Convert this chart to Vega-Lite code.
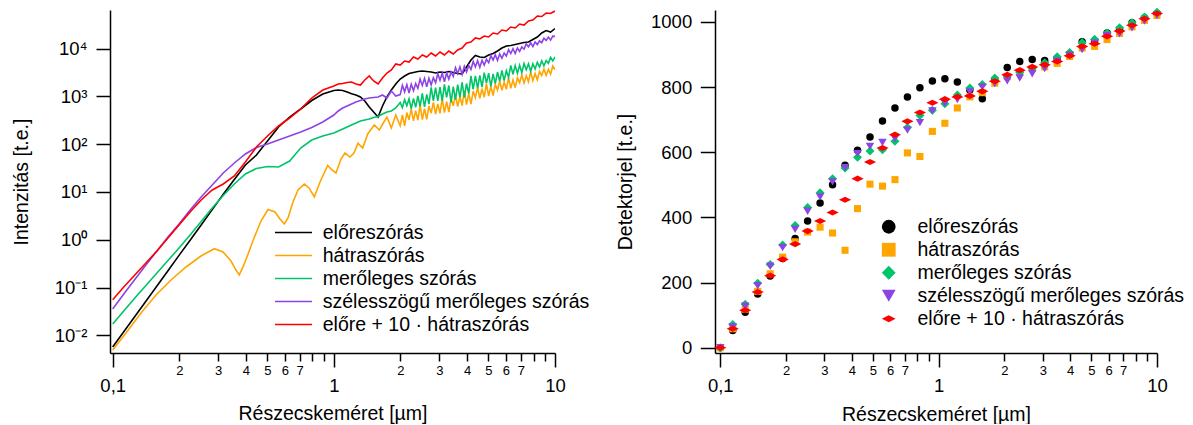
{
  "$schema": "https://vega.github.io/schema/vega-lite/v6.json",
  "autosize": {"type": "pad"},
  "padding": {"left": 11, "top": 7, "right": 0, "bottom": 0},
  "bounds": "flush",
  "spacing": 160,
  "config": {
    "view": {"stroke": null},
    "font": "Liberation Sans",
    "axis": {"domainColor": "#000", "domainWidth": 1.5, "tickColor": "#000", "tickWidth": 1.5, "labelColor": "#000", "titleColor": "#000", "titleFontWeight": "normal", "titleFontSize": 19.5, "labelFont": "Liberation Sans", "titleFont": "Liberation Sans", "grid": false, "labelOverlap": false, "labelFlush": false, "labelBound": false},
    "legend": {"labelFont": "Liberation Sans", "labelColor": "#000"}
  },
  "resolve": {"scale": {"color": "independent", "shape": "independent", "x": "independent", "y": "independent"}, "legend": {"color": "independent", "shape": "independent"}},
  "datasets": {
    "L": [
      {"s":"a","x":0.1,"y":0.00569},{"s":"a","x":0.1122,"y":0.0119},{"s":"a","x":0.1259,"y":0.0247},{"s":"a","x":0.1413,"y":0.0517},{"s":"a","x":0.1585,"y":0.1075},{"s":"a","x":0.1778,"y":0.2246},{"s":"a","x":0.1995,"y":0.4694},{"s":"a","x":0.2239,"y":0.976},{"s":"a","x":0.2512,"y":2.039},{"s":"a","x":0.2818,"y":4.262},{"s":"a","x":0.3162,"y":8.909},{"s":"a","x":0.3548,"y":18.17},{"s":"a","x":0.3981,"y":36.54},{"s":"a","x":0.4467,"y":59.16},{"s":"a","x":0.5012,"y":116.1},{"s":"a","x":0.5623,"y":227.9},{"s":"a","x":0.631,"y":368.9},{"s":"a","x":0.7079,"y":542.5},{"s":"a","x":0.7943,"y":816.9},{"s":"a","x":0.8913,"y":1117},{"s":"a","x":1,"y":1322},
      {"s":"a","x":1.0471,"y":1354},{"s":"a","x":1.0965,"y":1322},{"s":"a","x":1.1482,"y":1230},{"s":"a","x":1.2023,"y":1133},{"s":"a","x":1.2589,"y":1065},{"s":"a","x":1.3183,"y":967},{"s":"a","x":1.3804,"y":797.5},{"s":"a","x":1.4454,"y":597.3},{"s":"a","x":1.5136,"y":469.4},{"s":"a","x":1.5849,"y":368.9},{"s":"a","x":1.6596,"y":626.8},{"s":"a","x":1.7378,"y":967},{"s":"a","x":1.8197,"y":1354},{"s":"a","x":1.9055,"y":1808},{"s":"a","x":1.9953,"y":2301},{"s":"a","x":2.0893,"y":2658},{"s":"a","x":2.1878,"y":2999},{"s":"a","x":2.2909,"y":3148},{"s":"a","x":2.3988,"y":3302},{"s":"a","x":2.5119,"y":3383},{"s":"a","x":2.6303,"y":3302},{"s":"a","x":2.7542,"y":3224},{"s":"a","x":2.884,"y":3072},{"s":"a","x":3.02,"y":3224},{"s":"a","x":3.1623,"y":3148},{"s":"a","x":3.3113,"y":3302},{"s":"a","x":3.4674,"y":3148},{"s":"a","x":3.6308,"y":2999},{"s":"a","x":3.8019,"y":2928},{"s":"a","x":3.9811,"y":4102},{"s":"a","x":4.1687,"y":5745},{"s":"a","x":4.3652,"y":7139},{"s":"a","x":4.5709,"y":6641},{"s":"a","x":4.7863,"y":6481},{"s":"a","x":5.0119,"y":7311},{"s":"a","x":5.2481,"y":7861},{"s":"a","x":5.4954,"y":8866},{"s":"a","x":5.7544,"y":10245},{"s":"a","x":6.0256,"y":11280},{"s":"a","x":6.3096,"y":11557},{"s":"a","x":6.6069,"y":12125},{"s":"a","x":6.9183,"y":12722},{"s":"a","x":7.2444,"y":13350},{"s":"a","x":7.5858,"y":13677},{"s":"a","x":7.9433,"y":15429},{"s":"a","x":8.3176,"y":17404},{"s":"a","x":8.7096,"y":21102},{"s":"a","x":9.1201,"y":23803},{"s":"a","x":9.5499,"y":22137},{"s":"a","x":10,"y":26204},

      {"s":"b","x":0.1,"y":0.00493},{"s":"b","x":0.1148,"y":0.01117},{"s":"b","x":0.1343,"y":0.02927},{"s":"b","x":0.157,"y":0.0697},{"s":"b","x":0.1835,"y":0.1435},{"s":"b","x":0.2146,"y":0.2685},{"s":"b","x":0.2507,"y":0.456},{"s":"b","x":0.288,"y":0.648},{"s":"b","x":0.3154,"y":0.553},{"s":"b","x":0.3427,"y":0.358},{"s":"b","x":0.361,"y":0.232},{"s":"b","x":0.3737,"y":0.183},{"s":"b","x":0.3884,"y":0.269},{"s":"b","x":0.4079,"y":0.479},{"s":"b","x":0.4355,"y":1.085},{"s":"b","x":0.4684,"y":2.46},{"s":"b","x":0.5037,"y":4.28},{"s":"b","x":0.542,"y":3.8},{"s":"b","x":0.5708,"y":2.71},{"s":"b","x":0.597,"y":2.13},{"s":"b","x":0.6204,"y":2.84},{"s":"b","x":0.6535,"y":6.15},{"s":"b","x":0.6884,"y":10.96},{"s":"b","x":0.7352,"y":14.6},{"s":"b","x":0.7721,"y":12.1},{"s":"b","x":0.8157,"y":7.82},{"s":"b","x":0.8658,"y":16.1},{"s":"b","x":0.9381,"y":35.7},{"s":"b","x":0.9809,"y":28.7},{"s":"b","x":1.0226,"y":24.9},{"s":"b","x":1.0772,"y":48.8},{"s":"b","x":1.1232,"y":65.1},{"s":"b","x":1.183,"y":53.7},{"s":"b","x":1.2334,"y":65.1},{"s":"b","x":1.2858,"y":105},{"s":"b","x":1.3504,"y":82.9},{"s":"b","x":1.4224,"y":163},{"s":"b","x":1.5237,"y":251},{"s":"b","x":1.6051,"y":197},
      {"s":"b","x":1.6596,"y":260},{"s":"b","x":1.7378,"y":368.9},{"s":"b","x":1.8197,"y":217.2},{"s":"b","x":1.9055,"y":406.2},
      {"s":"b","x":1.9953,"y":241.5},{"s":"b","x":2.0417,"y":406.6},{"s":"b","x":2.0893,"y":241.9},{"s":"b","x":2.138,"y":457.3},{"s":"b","x":2.1878,"y":323.6},{"s":"b","x":2.2387,"y":545.1},{"s":"b","x":2.2909,"y":306},{"s":"b","x":2.3442,"y":500.7},{"s":"b","x":2.3988,"y":315.6},{"s":"b","x":2.4547,"y":650.6},
      {"s":"b","x":2.5119,"y":325.5},{"s":"b","x":2.5704,"y":550.4},{"s":"b","x":2.6303,"y":328.6},{"s":"b","x":2.6915,"y":623.7},{"s":"b","x":2.7542,"y":443},{"s":"b","x":2.8184,"y":749},{"s":"b","x":2.884,"y":422.2},{"s":"b","x":2.9512,"y":693.6},{"s":"b","x":3.02,"y":438.8},{"s":"b","x":3.0903,"y":908.3},
      {"s":"b","x":3.1623,"y":456.1},{"s":"b","x":3.2359,"y":774.6},{"s":"b","x":3.3113,"y":464.9},{"s":"b","x":3.3884,"y":886.6},{"s":"b","x":3.4674,"y":632.7},{"s":"b","x":3.5481,"y":1075},{"s":"b","x":3.6308,"y":608.8},{"s":"b","x":3.7154,"y":1005},{"s":"b","x":3.8019,"y":638.9},{"s":"b","x":3.8905,"y":1329},
      {"s":"b","x":3.9811,"y":670.5},{"s":"b","x":4.0738,"y":1134},{"s":"b","x":4.1687,"y":688},{"s":"b","x":4.2658,"y":1286},{"s":"b","x":4.3652,"y":931.6},{"s":"b","x":4.4668,"y":1535},{"s":"b","x":4.5709,"y":905.2},{"s":"b","x":4.6774,"y":1437},{"s":"b","x":4.7863,"y":956.1},{"s":"b","x":4.8978,"y":1841},
      {"s":"b","x":5.0119,"y":1011},{"s":"b","x":5.1286,"y":1604},{"s":"b","x":5.2481,"y":1038},{"s":"b","x":5.3703,"y":1792},{"s":"b","x":5.4954,"y":1357},{"s":"b","x":5.6234,"y":2094},{"s":"b","x":5.7544,"y":1328},{"s":"b","x":5.8884,"y":1982},{"s":"b","x":6.0256,"y":1398},{"s":"b","x":6.166,"y":2461},
      {"s":"b","x":6.3096,"y":1475},{"s":"b","x":6.4565,"y":2197},{"s":"b","x":6.6069,"y":1521},{"s":"b","x":6.7608,"y":2434},{"s":"b","x":6.9183,"y":1928},{"s":"b","x":7.0795,"y":2797},{"s":"b","x":7.2444,"y":1910},{"s":"b","x":7.4131,"y":2690},{"s":"b","x":7.5858,"y":2015},{"s":"b","x":7.7625,"y":3252},
      {"s":"b","x":7.9433,"y":2127},{"s":"b","x":8.1283,"y":2984},{"s":"b","x":8.3176,"y":2214},{"s":"b","x":8.5114,"y":3286},{"s":"b","x":8.7096,"y":2728},{"s":"b","x":8.9125,"y":3727},{"s":"b","x":9.1201,"y":2745},{"s":"b","x":9.3325,"y":3653},{"s":"b","x":9.5499,"y":2908},{"s":"b","x":9.7724,"y":4311},{"s":"b","x":10,"y":3620},

      {"s":"c","x":0.1,"y":0.01723},{"s":"c","x":0.1122,"y":0.03224},{"s":"c","x":0.1259,"y":0.0603},{"s":"c","x":0.1413,"y":0.1101},{"s":"c","x":0.1585,"y":0.201},{"s":"c","x":0.1778,"y":0.3671},{"s":"c","x":0.1995,"y":0.6705},{"s":"c","x":0.2239,"y":1.254},{"s":"c","x":0.2512,"y":2.403},{"s":"c","x":0.2818,"y":4.605},{"s":"c","x":0.3162,"y":8.409},{"s":"c","x":0.3548,"y":14.63},{"s":"c","x":0.3981,"y":23.69},{"s":"c","x":0.4467,"y":30.86},{"s":"c","x":0.5012,"y":33.99},{"s":"c","x":0.5623,"y":33.18},{"s":"c","x":0.631,"y":44.3},{"s":"c","x":0.7079,"y":82.85},{"s":"c","x":0.7943,"y":121.8},{"s":"c","x":0.8913,"y":147.7},{"s":"c","x":1,"y":170.7},
      {"s":"c","x":1.0471,"y":187.9},{"s":"c","x":1.0965,"y":207},{"s":"c","x":1.1482,"y":227.9},{"s":"c","x":1.2023,"y":250.9},{"s":"c","x":1.2589,"y":276.3},{"s":"c","x":1.3183,"y":304.3},{"s":"c","x":1.3804,"y":319.3},{"s":"c","x":1.4454,"y":335},{"s":"c","x":1.5136,"y":360.1},{"s":"c","x":1.5849,"y":378},{"s":"c","x":1.6596,"y":426.3},{"s":"c","x":1.7378,"y":469.4},{"s":"c","x":1.8197,"y":492.6},{"s":"c","x":1.9055,"y":569.1},
      {"s":"c","x":1.9953,"y":742},{"s":"c","x":2.0417,"y":581},{"s":"c","x":2.0893,"y":852},{"s":"c","x":2.138,"y":637},{"s":"c","x":2.1878,"y":889},{"s":"c","x":2.2387,"y":548},{"s":"c","x":2.2909,"y":906},{"s":"c","x":2.3442,"y":587},{"s":"c","x":2.3988,"y":1017},{"s":"c","x":2.4547,"y":619},
      {"s":"c","x":2.5119,"y":1149},{"s":"c","x":2.5704,"y":598},{"s":"c","x":2.6303,"y":1095},{"s":"c","x":2.6915,"y":689},{"s":"c","x":2.7542,"y":1533},{"s":"c","x":2.8184,"y":799},{"s":"c","x":2.884,"y":1518},{"s":"c","x":2.9512,"y":802},{"s":"c","x":3.02,"y":1549},{"s":"c","x":3.0903,"y":805},
      {"s":"c","x":3.1623,"y":1772},{"s":"c","x":3.2359,"y":951},{"s":"c","x":3.3113,"y":1681},{"s":"c","x":3.3884,"y":744},{"s":"c","x":3.4674,"y":1595},{"s":"c","x":3.5481,"y":856},{"s":"c","x":3.6308,"y":1764},{"s":"c","x":3.7154,"y":947},{"s":"c","x":3.8019,"y":1952},{"s":"c","x":3.8905,"y":934},
      {"s":"c","x":3.9811,"y":1851},{"s":"c","x":4.0738,"y":1133},{"s":"c","x":4.1687,"y":2685},{"s":"c","x":4.2658,"y":1389},{"s":"c","x":4.3652,"y":2665},{"s":"c","x":4.4668,"y":1468},{"s":"c","x":4.5709,"y":2747},{"s":"c","x":4.6774,"y":1558},{"s":"c","x":4.7863,"y":3139},{"s":"c","x":4.8978,"y":1882},
      {"s":"c","x":5.0119,"y":3051},{"s":"c","x":5.1286,"y":1599},{"s":"c","x":5.2481,"y":2946},{"s":"c","x":5.3703,"y":1846},{"s":"c","x":5.4954,"y":3217},{"s":"c","x":5.6234,"y":2062},{"s":"c","x":5.7544,"y":3494},{"s":"c","x":5.8884,"y":2127},{"s":"c","x":6.0256,"y":3424},{"s":"c","x":6.166,"y":2492},
      {"s":"c","x":6.3096,"y":4415},{"s":"c","x":6.4565,"y":2883},{"s":"c","x":6.6069,"y":4378},{"s":"c","x":6.7608,"y":3017},{"s":"c","x":6.9183,"y":4473},{"s":"c","x":7.0795,"y":3162},{"s":"c","x":7.2444,"y":4863},{"s":"c","x":7.4131,"y":3592},{"s":"c","x":7.5858,"y":4785},{"s":"c","x":7.7625,"y":3331},
      {"s":"c","x":7.9433,"y":4761},{"s":"c","x":8.1283,"y":3728},{"s":"c","x":8.3176,"y":5130},{"s":"c","x":8.5114,"y":4111},{"s":"c","x":8.7096,"y":5512},{"s":"c","x":8.9125,"y":4341},{"s":"c","x":9.1201,"y":5607},{"s":"c","x":9.3325,"y":4903},{"s":"c","x":9.5499,"y":6508},{"s":"c","x":9.7724,"y":5479},{"s":"c","x":10,"y":6707},

      {"s":"d","x":0.1,"y":0.0355},{"s":"d","x":0.1122,"y":0.0731},{"s":"d","x":0.1259,"y":0.147},{"s":"d","x":0.1413,"y":0.2956},{"s":"d","x":0.1585,"y":0.58},{"s":"d","x":0.1778,"y":1.139},{"s":"d","x":0.1995,"y":2.131},{"s":"d","x":0.2239,"y":4.181},{"s":"d","x":0.2512,"y":7.822},{"s":"d","x":0.2818,"y":13.94},{"s":"d","x":0.3162,"y":24.86},{"s":"d","x":0.3548,"y":40.24},{"s":"d","x":0.3981,"y":62.08},{"s":"d","x":0.4467,"y":84.92},{"s":"d","x":0.5012,"y":100.5},{"s":"d","x":0.5623,"y":121.8},{"s":"d","x":0.631,"y":147.7},{"s":"d","x":0.7079,"y":179.1},{"s":"d","x":0.7943,"y":222.5},{"s":"d","x":0.8913,"y":290},{"s":"d","x":1,"y":406.2},
      {"s":"d","x":1.0471,"y":492.6},{"s":"d","x":1.0965,"y":569.1},{"s":"d","x":1.1482,"y":626.8},{"s":"d","x":1.2023,"y":690.2},{"s":"d","x":1.2589,"y":760},{"s":"d","x":1.3183,"y":816.9},{"s":"d","x":1.3804,"y":878.1},{"s":"d","x":1.4454,"y":921.3},{"s":"d","x":1.5136,"y":943.9},{"s":"d","x":1.5849,"y":967},{"s":"d","x":1.6596,"y":1065},{"s":"d","x":1.7378,"y":921.3},{"s":"d","x":1.8197,"y":1291},{"s":"d","x":1.9055,"y":1015},
      {"s":"d","x":1.9953,"y":1085},{"s":"d","x":2.0417,"y":1692},{"s":"d","x":2.0893,"y":1242},{"s":"d","x":2.138,"y":1758},{"s":"d","x":2.1878,"y":1171},{"s":"d","x":2.2387,"y":1792},{"s":"d","x":2.2909,"y":1315},{"s":"d","x":2.3442,"y":1862},{"s":"d","x":2.3988,"y":1476},{"s":"d","x":2.4547,"y":2303},
      {"s":"d","x":2.5119,"y":1690},{"s":"d","x":2.5704,"y":2376},{"s":"d","x":2.6303,"y":1571},{"s":"d","x":2.6915,"y":2387},{"s":"d","x":2.7542,"y":1739},{"s":"d","x":2.8184,"y":2445},{"s":"d","x":2.884,"y":1924},{"s":"d","x":2.9512,"y":2980},{"s":"d","x":3.02,"y":2171},{"s":"d","x":3.0903,"y":3052},
      {"s":"d","x":3.1623,"y":2018},{"s":"d","x":3.2359,"y":3091},{"s":"d","x":3.3113,"y":2289},{"s":"d","x":3.3884,"y":3222},{"s":"d","x":3.4674,"y":2591},{"s":"d","x":3.5481,"y":3963},{"s":"d","x":3.6308,"y":2980},{"s":"d","x":3.7154,"y":4128},{"s":"d","x":3.8019,"y":2869},{"s":"d","x":3.8905,"y":4235},
      {"s":"d","x":3.9811,"y":3242},{"s":"d","x":4.0738,"y":4419},{"s":"d","x":4.1687,"y":3638},{"s":"d","x":4.2658,"y":5339},{"s":"d","x":4.3652,"y":4140},{"s":"d","x":4.4668,"y":5556},{"s":"d","x":4.5709,"y":4018},{"s":"d","x":4.6774,"y":5703},{"s":"d","x":4.7863,"y":4501},{"s":"d","x":4.8978,"y":5960},
      {"s":"d","x":5.0119,"y":5042},{"s":"d","x":5.1286,"y":7088},{"s":"d","x":5.2481,"y":5706},{"s":"d","x":5.3703,"y":7407},{"s":"d","x":5.4954,"y":5619},{"s":"d","x":5.6234,"y":7652},{"s":"d","x":5.7544,"y":6268},{"s":"d","x":5.8884,"y":8027},{"s":"d","x":6.0256,"y":6979},{"s":"d","x":6.166,"y":9436},
      {"s":"d","x":6.3096,"y":7852},{"s":"d","x":6.4565,"y":9874},{"s":"d","x":6.6069,"y":7856},{"s":"d","x":6.7608,"y":10264},{"s":"d","x":6.9183,"y":8729},{"s":"d","x":7.0795,"y":10812},{"s":"d","x":7.2444,"y":9678},{"s":"d","x":7.4131,"y":12529},{"s":"d","x":7.5858,"y":10819},{"s":"d","x":7.7625,"y":13195},
      {"s":"d","x":7.9433,"y":10952},{"s":"d","x":8.1283,"y":13757},{"s":"d","x":8.3176,"y":12064},{"s":"d","x":8.5114,"y":14478},{"s":"d","x":8.7096,"y":13265},{"s":"d","x":8.9125,"y":16482},{"s":"d","x":9.1201,"y":14680},{"s":"d","x":9.3325,"y":17338},{"s":"d","x":9.5499,"y":14977},{"s":"d","x":9.7724,"y":18129},{"s":"d","x":10,"y":17900},

      {"s":"e","x":0.1,"y":0.0556},{"s":"e","x":0.1122,"y":0.1024},{"s":"e","x":0.1259,"y":0.1826},{"s":"e","x":0.1413,"y":0.3255},{"s":"e","x":0.1585,"y":0.58},{"s":"e","x":0.1778,"y":1.085},{"s":"e","x":0.1995,"y":2.03},{"s":"e","x":0.2239,"y":3.798},{"s":"e","x":0.2512,"y":6.769},{"s":"e","x":0.2818,"y":10.96},{"s":"e","x":0.3162,"y":14.63},{"s":"e","x":0.3548,"y":21.51},{"s":"e","x":0.3981,"y":42.22},{"s":"e","x":0.4467,"y":86.98},{"s":"e","x":0.5012,"y":147.7},{"s":"e","x":0.5623,"y":239.2},{"s":"e","x":0.631,"y":351.6},{"s":"e","x":0.7079,"y":542.5},{"s":"e","x":0.7943,"y":921.3},{"s":"e","x":0.8913,"y":1354},{"s":"e","x":1,"y":1643},
      {"s":"e","x":1.0471,"y":1808},{"s":"e","x":1.0965,"y":1852},{"s":"e","x":1.1482,"y":1944},{"s":"e","x":1.2023,"y":1992},{"s":"e","x":1.2589,"y":1808},{"s":"e","x":1.3183,"y":1723},{"s":"e","x":1.3804,"y":2193},{"s":"e","x":1.4454,"y":2658},{"s":"e","x":1.5136,"y":2090},{"s":"e","x":1.5849,"y":1808},{"s":"e","x":1.6596,"y":2414},{"s":"e","x":1.7378,"y":3072},{"s":"e","x":1.8197,"y":3549},{"s":"e","x":1.9055,"y":4740},{"s":"e","x":1.9953,"y":4516},{"s":"e","x":2.0893,"y":5475},{"s":"e","x":2.1878,"y":5219},{"s":"e","x":2.2909,"y":6641},{"s":"e","x":2.3988,"y":6031},{"s":"e","x":2.5119,"y":7311},{"s":"e","x":2.6303,"y":6641},{"s":"e","x":2.7542,"y":8054},{"s":"e","x":2.884,"y":6968},{"s":"e","x":3.02,"y":8451},{"s":"e","x":3.1623,"y":7311},{"s":"e","x":3.3113,"y":8866},{"s":"e","x":3.4674,"y":7674},{"s":"e","x":3.6308,"y":9303},{"s":"e","x":3.8019,"y":10245},{"s":"e","x":3.9811,"y":13033},{"s":"e","x":4.1687,"y":13677},{"s":"e","x":4.3652,"y":16589},{"s":"e","x":4.5709,"y":15801},{"s":"e","x":4.7863,"y":18261},{"s":"e","x":5.0119,"y":17404},{"s":"e","x":5.2481,"y":21102},{"s":"e","x":5.4954,"y":20108},{"s":"e","x":5.7544,"y":24378},{"s":"e","x":6.0256,"y":23233},{"s":"e","x":6.3096,"y":28174},{"s":"e","x":6.6069,"y":26852},{"s":"e","x":6.9183,"y":32550},{"s":"e","x":7.2444,"y":31017},{"s":"e","x":7.5858,"y":37610},{"s":"e","x":7.9433,"y":39470},{"s":"e","x":8.3176,"y":47860},{"s":"e","x":8.7096,"y":46710},{"s":"e","x":9.1201,"y":55300},{"s":"e","x":9.5499,"y":53980},{"s":"e","x":10,"y":60880}
    ],
    "R": [
      {"s":"a","x":0.1,"y":0},{"s":"a","x":0.11406,"y":53},{"s":"a","x":0.1301,"y":109},{"s":"a","x":0.1484,"y":165},{"s":"a","x":0.16927,"y":220},{"s":"a","x":0.19307,"y":274},{"s":"a","x":0.22023,"y":335},{"s":"a","x":0.25119,"y":389},{"s":"a","x":0.28651,"y":444},{"s":"a","x":0.32681,"y":500},{"s":"a","x":0.37276,"y":560},{"s":"a","x":0.4252,"y":606},{"s":"a","x":0.48499,"y":647},{"s":"a","x":0.5532,"y":696},{"s":"a","x":0.63096,"y":736},{"s":"a","x":0.71969,"y":770},{"s":"a","x":0.82089,"y":798},{"s":"a","x":0.93633,"y":819},{"s":"a","x":1.068,"y":826},{"s":"a","x":1.21819,"y":816},{"s":"a","x":1.3895,"y":791},{"s":"a","x":1.58489,"y":764},{"s":"a","x":1.80777,"y":823},{"s":"a","x":2.06199,"y":860},{"s":"a","x":2.35195,"y":879},{"s":"a","x":2.6827,"y":885},{"s":"a","x":3.05995,"y":882},{"s":"a","x":3.49025,"y":888},{"s":"a","x":3.98107,"y":902},{"s":"a","x":4.54091,"y":939},{"s":"a","x":5.17947,"y":942},{"s":"a","x":5.90784,"y":966},{"s":"a","x":6.73863,"y":978},{"s":"a","x":7.68625,"y":998},{"s":"a","x":8.76712,"y":1012},{"s":"a","x":10,"y":1026},
      {"s":"b","x":0.1,"y":0},{"s":"b","x":0.11406,"y":58},{"s":"b","x":0.1301,"y":118},{"s":"b","x":0.1484,"y":173},{"s":"b","x":0.16927,"y":227},{"s":"b","x":0.19307,"y":278},{"s":"b","x":0.22023,"y":325},{"s":"b","x":0.25119,"y":355},{"s":"b","x":0.28651,"y":370},{"s":"b","x":0.32681,"y":352},{"s":"b","x":0.37276,"y":299},{"s":"b","x":0.4252,"y":427},{"s":"b","x":0.48499,"y":502},{"s":"b","x":0.5532,"y":496},{"s":"b","x":0.63096,"y":516},{"s":"b","x":0.71969,"y":598},{"s":"b","x":0.82089,"y":587},{"s":"b","x":0.93633,"y":664},{"s":"b","x":1.068,"y":689},{"s":"b","x":1.21819,"y":736},{"s":"b","x":1.3895,"y":770},{"s":"b","x":1.58489,"y":783},{"s":"b","x":1.80777,"y":812},{"s":"b","x":2.06199,"y":832},{"s":"b","x":2.35195,"y":846},{"s":"b","x":2.6827,"y":857},{"s":"b","x":3.05995,"y":862},{"s":"b","x":3.49025,"y":873},{"s":"b","x":3.98107,"y":894},{"s":"b","x":4.54091,"y":920},{"s":"b","x":5.17947,"y":925},{"s":"b","x":5.90784,"y":946},{"s":"b","x":6.73863,"y":965},{"s":"b","x":7.68625,"y":985},{"s":"b","x":8.76712,"y":1005},{"s":"b","x":10,"y":1020},
      {"s":"c","x":0.1,"y":0},{"s":"c","x":0.11406,"y":71},{"s":"c","x":0.1301,"y":133},{"s":"c","x":0.1484,"y":198},{"s":"c","x":0.16927,"y":255},{"s":"c","x":0.19307,"y":315},{"s":"c","x":0.22023,"y":375},{"s":"c","x":0.25119,"y":430},{"s":"c","x":0.28651,"y":476},{"s":"c","x":0.32681,"y":519},{"s":"c","x":0.37276,"y":552},{"s":"c","x":0.4252,"y":585},{"s":"c","x":0.48499,"y":604},{"s":"c","x":0.5532,"y":608},{"s":"c","x":0.63096,"y":634},{"s":"c","x":0.71969,"y":676},{"s":"c","x":0.82089,"y":713},{"s":"c","x":0.93633,"y":729},{"s":"c","x":1.068,"y":749},{"s":"c","x":1.21819,"y":776},{"s":"c","x":1.3895,"y":797},{"s":"c","x":1.58489,"y":808},{"s":"c","x":1.80777,"y":828},{"s":"c","x":2.06199,"y":834},{"s":"c","x":2.35195,"y":846},{"s":"c","x":2.6827,"y":857},{"s":"c","x":3.05995,"y":875},{"s":"c","x":3.49025,"y":893},{"s":"c","x":3.98107,"y":906},{"s":"c","x":4.54091,"y":937},{"s":"c","x":5.17947,"y":947},{"s":"c","x":5.90784,"y":966},{"s":"c","x":6.73863,"y":982},{"s":"c","x":7.68625,"y":998},{"s":"c","x":8.76712,"y":1015},{"s":"c","x":10,"y":1030},
      {"s":"d","x":0.1,"y":0},{"s":"d","x":0.11406,"y":64},{"s":"d","x":0.1301,"y":127},{"s":"d","x":0.1484,"y":190},{"s":"d","x":0.16927,"y":250},{"s":"d","x":0.19307,"y":307},{"s":"d","x":0.22023,"y":363},{"s":"d","x":0.25119,"y":419},{"s":"d","x":0.28651,"y":463},{"s":"d","x":0.32681,"y":509},{"s":"d","x":0.37276,"y":553},{"s":"d","x":0.4252,"y":596},{"s":"d","x":0.48499,"y":618},{"s":"d","x":0.5532,"y":630},{"s":"d","x":0.63096,"y":642},{"s":"d","x":0.71969,"y":668},{"s":"d","x":0.82089,"y":691},{"s":"d","x":0.93633,"y":727},{"s":"d","x":1.068,"y":751},{"s":"d","x":1.21819,"y":762},{"s":"d","x":1.3895,"y":785},{"s":"d","x":1.58489,"y":800},{"s":"d","x":1.80777,"y":811},{"s":"d","x":2.06199,"y":819},{"s":"d","x":2.35195,"y":828},{"s":"d","x":2.6827,"y":841},{"s":"d","x":3.05995,"y":857},{"s":"d","x":3.49025,"y":880},{"s":"d","x":3.98107,"y":898},{"s":"d","x":4.54091,"y":915},{"s":"d","x":5.17947,"y":935},{"s":"d","x":5.90784,"y":958},{"s":"d","x":6.73863,"y":964},{"s":"d","x":7.68625,"y":982},{"s":"d","x":8.76712,"y":1003},{"s":"d","x":10,"y":1020},
      {"s":"e","x":0.1,"y":0},{"s":"e","x":0.11406,"y":58},{"s":"e","x":0.1301,"y":115},{"s":"e","x":0.1484,"y":171},{"s":"e","x":0.16927,"y":221},{"s":"e","x":0.19307,"y":271},{"s":"e","x":0.22023,"y":318},{"s":"e","x":0.25119,"y":358},{"s":"e","x":0.28651,"y":389},{"s":"e","x":0.32681,"y":415},{"s":"e","x":0.37276,"y":454},{"s":"e","x":0.4252,"y":519},{"s":"e","x":0.48499,"y":570},{"s":"e","x":0.5532,"y":613},{"s":"e","x":0.63096,"y":654},{"s":"e","x":0.71969,"y":695},{"s":"e","x":0.82089,"y":722},{"s":"e","x":0.93633,"y":752},{"s":"e","x":1.068,"y":763},{"s":"e","x":1.21819,"y":770},{"s":"e","x":1.3895,"y":773},{"s":"e","x":1.58489,"y":787},{"s":"e","x":1.80777,"y":818},{"s":"e","x":2.06199,"y":838},{"s":"e","x":2.35195,"y":852},{"s":"e","x":2.6827,"y":862},{"s":"e","x":3.05995,"y":869},{"s":"e","x":3.49025,"y":879},{"s":"e","x":3.98107,"y":896},{"s":"e","x":4.54091,"y":925},{"s":"e","x":5.17947,"y":933},{"s":"e","x":5.90784,"y":956},{"s":"e","x":6.73863,"y":972},{"s":"e","x":7.68625,"y":990},{"s":"e","x":8.76712,"y":1010},{"s":"e","x":10,"y":1026}
    ]
  },
  "hconcat": [
    {
      "width": 445,
      "height": 343,
      "data": {"name": "L"},
      "mark": {"type": "line", "strokeWidth": 1.6, "clip": true},
      "encoding": {
        "x": {
          "field": "x", "type": "quantitative",
          "scale": {"type": "log", "domain": [0.09723, 10], "nice": false},
          "axis": {
            "values": [0.1,0.2,0.3,0.4,0.5,0.6,0.7,0.8,0.9,1,2,3,4,5,6,7,8,9,10],
            "labelExpr": "datum.value == 0.1 ? '0,1' : datum.value == 1 ? '1' : datum.value == 10 ? '10' : datum.value < 1 ? (datum.value < 0.75 ? '' + round(datum.value * 10) : '') : (datum.value < 7.5 ? '' + round(datum.value) : '')",
            "labelFontSize": {"condition": {"test": "datum.value == 0.1 || datum.value == 1 || datum.value == 10", "value": 18.5}, "value": 13},
            "tickSize": {"condition": {"test": "datum.value == 0.1 || datum.value == 1 || datum.value == 10", "value": 14}, "value": 8},
            "labelPadding": {"condition": {"test": "datum.value == 0.1 || datum.value == 1 || datum.value == 10", "value": 9}, "value": 3},
            "title": "Részecskeméret [µm]",
            "titleY": 66,
            "titleBaseline": "alphabetic"
          }
        },
        "y": {
          "field": "y", "type": "quantitative",
          "scale": {"type": "log", "domain": [0.004263, 63900], "nice": false},
          "axis": {
            "values": [0.01,0.1,1,10,100,1000,10000],
            "labelExpr": "datum.value < 0.05 ? '10⁻²' : datum.value < 0.5 ? '10⁻¹' : datum.value < 5 ? '10⁰' : datum.value < 50 ? '10¹' : datum.value < 500 ? '10²' : datum.value < 5000 ? '10³' : '10⁴'",
            "labelFontSize": 18.5,
            "tickSize": 14,
            "labelPadding": 9,
            "title": "Intenzitás [t.e.]",
            "titleX": -82.3,
            "titleY": 171.5,
            "titleAngle": -90,
            "titleAlign": "center",
            "titleBaseline": "alphabetic"
          }
        },
        "color": {
          "field": "s", "type": "nominal",
          "scale": {"domain": ["a","b","c","d","e"], "range": ["#000000","#FFA500","#00C468","#8C44E6","#FF0000"]},
          "legend": {
            "title": null, "orient": "none", "legendX": 172.5, "legendY": 211.5, "padding": 0,
            "symbolType": "M-1.85,0L1.85,0", "symbolSize": 400, "symbolStrokeWidth": 1.6,
            "labelFontSize": 19.5, "labelLimit": 500, "labelOffset": 18.2, "rowPadding": 2,
            "labelExpr": "datum.label == 'a' ? 'előreszórás' : datum.label == 'b' ? 'hátraszórás' : datum.label == 'c' ? 'merőleges szórás' : datum.label == 'd' ? 'szélesszögű merőleges szórás' : 'előre + 10 · hátraszórás'"
          }
        }
      }
    },
    {
      "width": 442,
      "height": 343,
      "data": {"name": "R"},
      "encoding": {
        "x": {
          "field": "x", "type": "quantitative",
          "scale": {"type": "log", "domain": [0.0946, 10], "nice": false},
          "axis": {
            "values": [0.1,0.2,0.3,0.4,0.5,0.6,0.7,0.8,0.9,1,2,3,4,5,6,7,8,9,10],
            "labelExpr": "datum.value == 0.1 ? '0,1' : datum.value == 1 ? '1' : datum.value == 10 ? '10' : datum.value < 1 ? (datum.value < 0.75 ? '' + round(datum.value * 10) : '') : (datum.value < 7.5 ? '' + round(datum.value) : '')",
            "labelFontSize": {"condition": {"test": "datum.value == 0.1 || datum.value == 1 || datum.value == 10", "value": 18.5}, "value": 13},
            "tickSize": {"condition": {"test": "datum.value == 0.1 || datum.value == 1 || datum.value == 10", "value": 14}, "value": 8},
            "labelPadding": {"condition": {"test": "datum.value == 0.1 || datum.value == 1 || datum.value == 10", "value": 9}, "value": 3},
            "title": "Részecskeméret [µm]",
            "titleY": 67,
            "titleBaseline": "alphabetic"
          }
        },
        "y": {
          "field": "y", "type": "quantitative",
          "scale": {"domain": [-16.4, 1036.8], "nice": false, "zero": false},
          "axis": {
            "values": [0,200,400,600,800,1000],
            "format": "d",
            "labelFontSize": 18.5,
            "tickSize": 14.7,
            "labelPadding": 8.6,
            "title": "Detektorjel [t.e.]",
            "titleX": -84,
            "titleY": 171.5,
            "titleAngle": -90,
            "titleAlign": "center",
            "titleBaseline": "alphabetic"
          }
        },
        "color": {
          "field": "s", "type": "nominal",
          "scale": {"domain": ["a","b","c","d","e"], "range": ["#000000","#FFA500","#00C468","#8C44E6","#FF0000"]},
          "legend": {
            "title": null, "orient": "none", "legendX": 164, "legendY": 207, "padding": 0,
            "symbolSize": 190, "labelFontSize": 19.5, "labelLimit": 500, "labelOffset": 19, "rowPadding": 2,
            "labelExpr": "datum.label == 'a' ? 'előreszórás' : datum.label == 'b' ? 'hátraszórás' : datum.label == 'c' ? 'merőleges szórás' : datum.label == 'd' ? 'szélesszögű merőleges szórás' : 'előre + 10 · hátraszórás'",
            "encode": {"symbols": {"update": {"size": {"signal": "datum.value == 'c' ? 256 : datum.value == 'e' ? 280 : 165"}}}}
          }
        },
        "shape": {
          "field": "s", "type": "nominal",
          "scale": {"domain": ["a","b","c","d","e"], "range": ["circle","square","diamond","triangle-down","M-1,0L0,-0.5L1,0L0,0.5Z"]},
          "legend": {
            "title": null, "orient": "none", "legendX": 164, "legendY": 207, "padding": 0,
            "symbolSize": 190, "labelFontSize": 19.5, "labelLimit": 500, "labelOffset": 19, "rowPadding": 2,
            "labelExpr": "datum.label == 'a' ? 'előreszórás' : datum.label == 'b' ? 'hátraszórás' : datum.label == 'c' ? 'merőleges szórás' : datum.label == 'd' ? 'szélesszögű merőleges szórás' : 'előre + 10 · hátraszórás'",
            "encode": {"symbols": {"update": {"size": {"signal": "datum.value == 'c' ? 256 : datum.value == 'e' ? 280 : 165"}}}}
          }
        }
      },
      "layer": [
        {"transform": [{"filter": "datum.s == 'a'"}], "mark": {"type": "point", "filled": true, "opacity": 1, "strokeWidth": 0, "size": 56}},
        {"transform": [{"filter": "datum.s == 'b'"}], "mark": {"type": "point", "filled": true, "opacity": 1, "strokeWidth": 0, "size": 50}},
        {"transform": [{"filter": "datum.s == 'c'"}], "mark": {"type": "point", "filled": true, "opacity": 1, "strokeWidth": 0, "size": 81}},
        {"transform": [{"filter": "datum.s == 'd'"}], "mark": {"type": "point", "filled": true, "opacity": 1, "strokeWidth": 0, "size": 72}},
        {"transform": [{"filter": "datum.s == 'e'"}], "mark": {"type": "point", "filled": true, "opacity": 1, "strokeWidth": 0, "size": 150}}
      ]
    }
  ]
}
